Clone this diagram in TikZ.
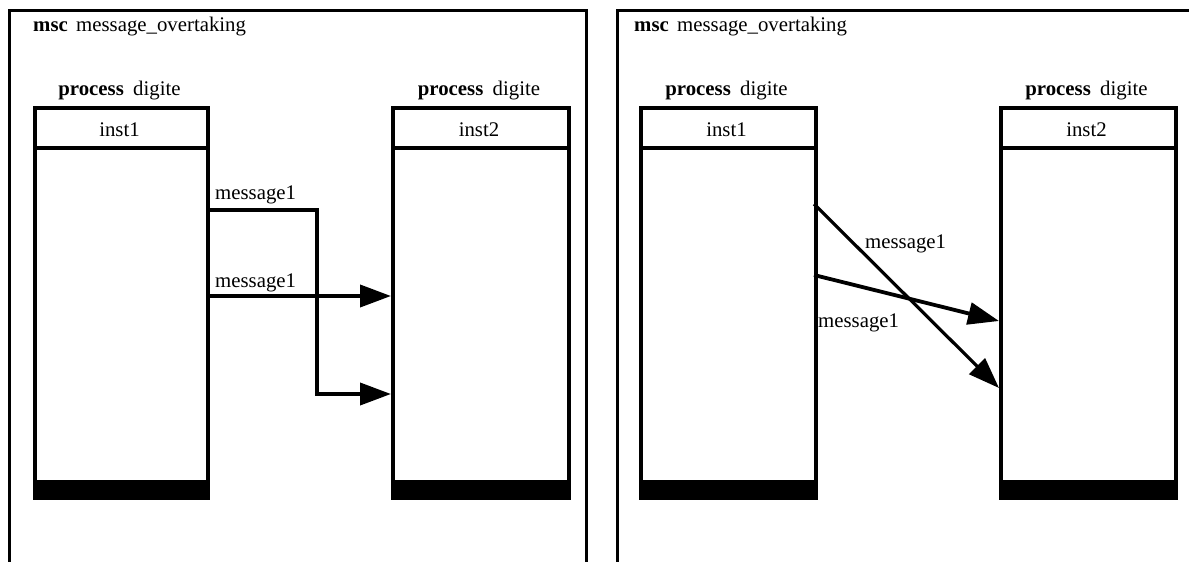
\documentclass[tikz,border=0pt]{standalone}
\usepackage{fontspec}
\setmainfont{Liberation Serif}
\usetikzlibrary{arrows.meta}
\begin{document}
\begin{tikzpicture}[x=1pt,y=-1pt,
  lw/.style={line width=3.8pt},
  framelw/.style={line width=3pt},
  txt/.style={font=\fontsize{20.8}{24}\selectfont, inner sep=0pt},
  hdr/.style={draw, lw, minimum width=#1, minimum height=40pt, inner sep=0pt, anchor=north west},
  bodybox/.style={draw, lw, minimum width=#1, minimum height=334pt, inner sep=0pt, anchor=north west},
  endbar/.style={draw, fill=black, lw, minimum width=#1, minimum height=16pt, inner sep=0pt, anchor=north west},
  msg/.style={lw, -{Triangle[length=31pt,width=22pt]}}
]
\useasboundingbox (0,0) rectangle (1189,562);

% frames
\draw[framelw] (9,565) -- (9,10) -- (586,10) -- (586,565);
\draw[framelw] (617,565) -- (617,10) -- (1192,10);

% ---------- left panel ----------
\node[txt, anchor=base west] (ttlL) at (33,31) {\textbf{msc}\hspace{0.4em}message\_overtaking};

\node[hdr=173pt] (hAL) at (33,106) {};
\node[bodybox=173pt] (bAL) at (33,146) {};
\node[endbar=173pt] (eAL) at (33,480) {};
\node[txt, anchor=base] (pAL) at (119.5,95) {\textbf{process}\hspace{0.45em}digite};
\node[txt, anchor=base] (nAL) at (119.5,136) {inst1};

\node[hdr=176pt] (hBL) at (391,106) {};
\node[bodybox=176pt] (bBL) at (391,146) {};
\node[endbar=176pt] (eBL) at (391,480) {};
\node[txt, anchor=base] (pBL) at (479,95) {\textbf{process}\hspace{0.45em}digite};
\node[txt, anchor=base] (nBL) at (479,136) {inst2};

\coordinate (m1sL) at (206,210);
\coordinate (m1kL) at (317,210);
\coordinate (m1jL) at (317,394);
\coordinate (m1eL) at (391,394);
\coordinate (m2sL) at (206,296);
\coordinate (m2eL) at (391,296);
\draw[msg] (m1sL) -- (m1kL) -- (m1jL) -- (m1eL);
\draw[msg] (m2sL) -- (m2eL);
\node[txt, anchor=base west] (l1L) at (215,199) {message1};
\node[txt, anchor=base west] (l2L) at (215,287) {message1};

% ---------- right panel ----------
\node[txt, anchor=base west] (ttlR) at (634,31) {\textbf{msc}\hspace{0.4em}message\_overtaking};

\node[hdr=175pt] (hAR) at (639,106) {};
\node[bodybox=175pt] (bAR) at (639,146) {};
\node[endbar=175pt] (eAR) at (639,480) {};
\node[txt, anchor=base] (pAR) at (726.5,95) {\textbf{process}\hspace{0.45em}digite};
\node[txt, anchor=base] (nAR) at (726.5,136) {inst1};

\node[hdr=175pt] (hBR) at (999,106) {};
\node[bodybox=175pt] (bBR) at (999,146) {};
\node[endbar=175pt] (eBR) at (999,480) {};
\node[txt, anchor=base] (pBR) at (1086.5,95) {\textbf{process}\hspace{0.45em}digite};
\node[txt, anchor=base] (nBR) at (1086.5,136) {inst2};

\coordinate (m1sR) at (814,204);
\coordinate (m1eR) at (999,388);
\coordinate (m2sR) at (814,275);
\coordinate (m2eR) at (999,321);
\draw[msg, line width=3.2pt] (m1sR) -- (m1eR);
\draw[msg] (m2sR) -- (m2eR);
\node[txt, anchor=base west] (l1R) at (865,248) {message1};
\node[txt, anchor=base west] (l2R) at (818,327) {message1};
\end{tikzpicture}
\end{document}
